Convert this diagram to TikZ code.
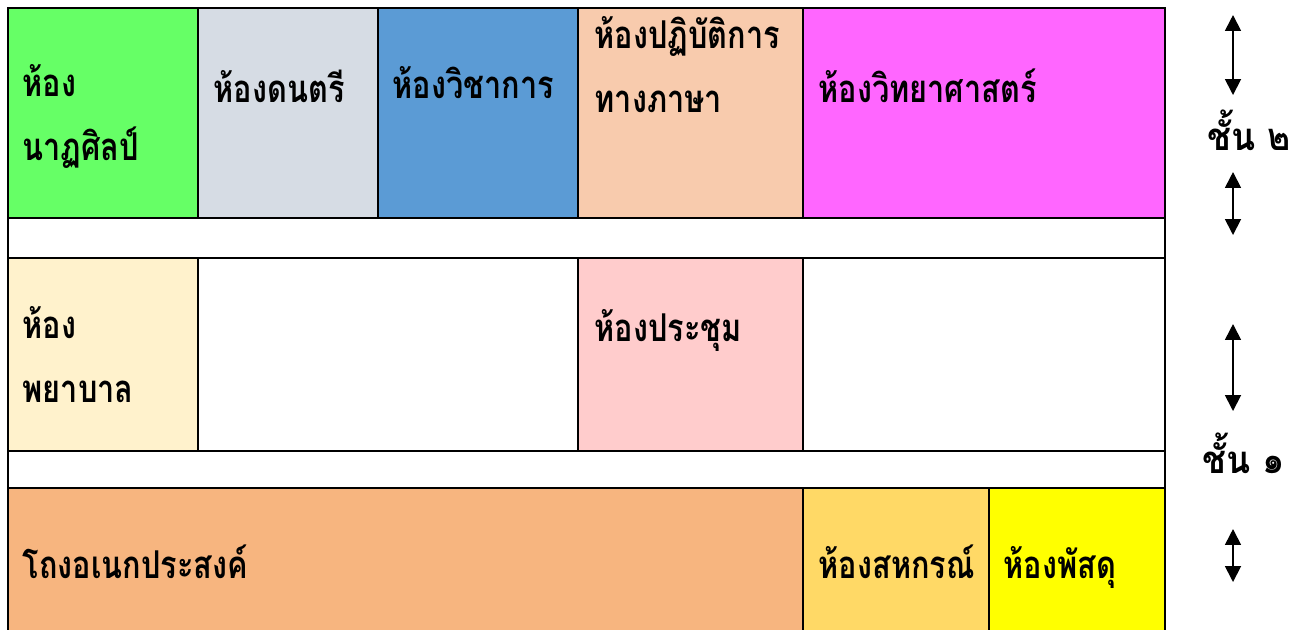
\documentclass[tikz,border=0pt]{standalone}
\usepackage{fontspec}
\usepackage{xcolor}
\usetikzlibrary{arrows.meta}
\newfontfamily\thaifont[Script=Thai, FakeStretch=0.8]{Loma}
\newfontfamily\floorfont[Script=Thai, FakeStretch=0.92]{Loma}
\definecolor{roomgreen}{HTML}{66FF66}
\definecolor{roomgrey}{HTML}{D6DCE4}
\definecolor{roomblue}{HTML}{5B9BD5}
\definecolor{roompeach}{HTML}{F8CBAD}
\definecolor{roommagenta}{HTML}{FF66FF}
\definecolor{roomcream}{HTML}{FFF2CC}
\definecolor{roompink}{HTML}{FFCCCC}
\definecolor{roomorange}{HTML}{F7B57F}
\definecolor{roomgold}{HTML}{FFD966}
\definecolor{roomyellow}{HTML}{FFFF00}
\tikzset{
	room/.style={draw=black, line width=0.6pt},
	roomname/.style={anchor=base west, inner sep=0pt, align=left, font=\thaifont\bfseries\fontsize{10.9}{18}\selectfont},
	floorname/.style={anchor=base west, inner sep=0pt, font=\floorfont\bfseries\fontsize{10.9}{12}\selectfont},
	floorarrow/.style={{Triangle[width=4.5pt,length=4.5pt]}-{Triangle[width=4.5pt,length=4.5pt]}, line width=0.5pt}
}
\begin{document}
\begin{tikzpicture}[x=0.01cm, y=-0.01cm]
	\clip (0,0) rectangle (1312,629);
	\fill[white] (0,0) rectangle (1312,629);
	% floor 2
	\draw[room, fill=roomgreen] (8,8) rectangle (198,218);
	\draw[room, fill=roomgrey] (198,8) rectangle (378,218);
	\draw[room, fill=roomblue] (378,8) rectangle (578,218);
	\draw[room, fill=roompeach] (578,8) rectangle (803,218);
	\draw[room, fill=roommagenta] (803,8) rectangle (1165,218);
	\draw[room] (8,218) rectangle (1165,258);
	% floor 1
	\draw[room, fill=roomcream] (8,258) rectangle (198,451);
	\draw[room] (198,258) rectangle (578,451);
	\draw[room, fill=roompink] (578,258) rectangle (803,451);
	\draw[room] (803,258) rectangle (1165,451);
	\draw[room] (8,451) rectangle (1165,488);
	\draw[room, fill=roomorange] (8,488) rectangle (803,660);
	\draw[room, fill=roomgold] (803,488) rectangle (989,660);
	\draw[room, fill=roomyellow] (989,488) rectangle (1165,660);
	% room names
	\node[roomname] (drama) at (22,160) {ห้อง\\นาฏศิลป์};
	\node[roomname] (music) at (213,102) {ห้องดนตรี};
	\node[roomname] (academic) at (392,98) {ห้องวิชาการ};
	\node[roomname] (langlab) at (594,112) {ห้องปฏิบัติการ\\ทางภาษา};
	\node[roomname] (science) at (818,102) {ห้องวิทยาศาสตร์};
	\node[roomname] (nurse) at (22,402) {ห้อง\\พยาบาล};
	\node[roomname] (meeting) at (594,341) {ห้องประชุม};
	\node[roomname] (hall) at (22,578) {โถงอเนกประสงค์};
	\node[roomname] (coop) at (818,578) {ห้องสหกรณ์};
	\node[roomname] (store) at (1003,578) {ห้องพัสดุ};
	% floors
	\node[floorname] (floortwo) at (1207,150) {ชั้น ๒};
	\node[floorname] (floorone) at (1202,473) {ชั้น ๑};
	\coordinate (twotop) at (1233,15);
	\coordinate (twomid) at (1233,95);
	\coordinate (twolow) at (1233,172);
	\coordinate (twoend) at (1233,235);
	\coordinate (onetop) at (1233,324);
	\coordinate (onemid) at (1233,411);
	\coordinate (onelow) at (1233,529);
	\coordinate (oneend) at (1233,582);
	\draw[floorarrow] (twotop) -- (twomid);
	\draw[floorarrow] (twolow) -- (twoend);
	\draw[floorarrow] (onetop) -- (onemid);
	\draw[floorarrow] (onelow) -- (oneend);
\end{tikzpicture}
\end{document}
